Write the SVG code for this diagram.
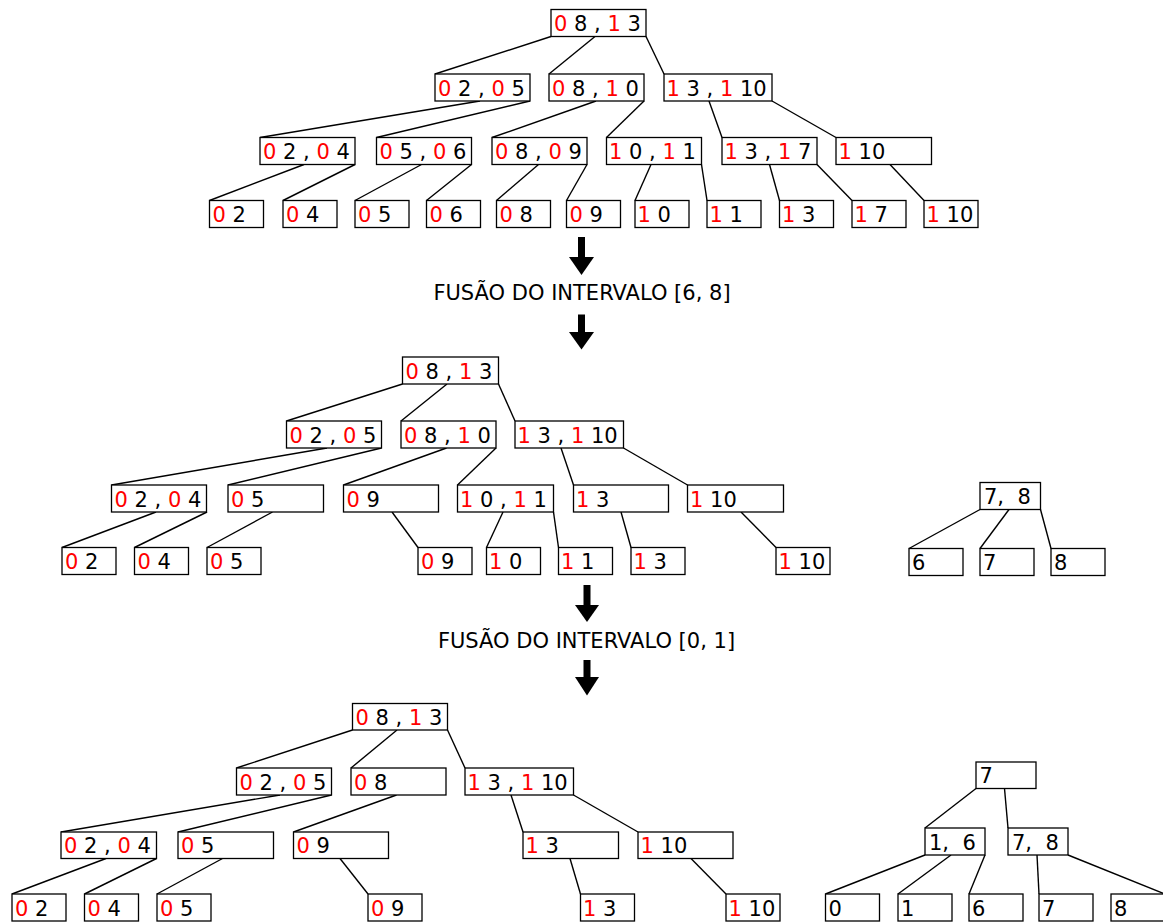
<svg xmlns="http://www.w3.org/2000/svg" width="1163" height="922" viewBox="0 0 1163 922">
<style>
rect.b{fill:#fff;stroke:#000;stroke-width:1.3}
text{font-family:"DejaVu Sans","Liberation Sans",sans-serif;font-size:21px;fill:#000;white-space:pre}
tspan.r{fill:#ff0000}
#connectors line{stroke:#000;stroke-width:1.4}
.ar{fill:#000}
</style>
<rect width="1163" height="922" fill="#fff"/>
<g id="connectors">
<!-- top tree -->
<line x1="551" y1="36.5" x2="435" y2="74"/>
<line x1="595" y1="36.5" x2="549" y2="74"/>
<line x1="646" y1="36.5" x2="664" y2="74"/>
<line x1="480" y1="101" x2="260" y2="137.5"/>
<line x1="530" y1="101" x2="376.5" y2="137.5"/>
<line x1="596" y1="101" x2="492" y2="137.5"/>
<line x1="644" y1="101" x2="606.5" y2="137.5"/>
<line x1="709" y1="101" x2="722" y2="137.5"/>
<line x1="772" y1="101" x2="836" y2="137.5"/>
<line x1="304" y1="164.5" x2="209.5" y2="200.5"/>
<line x1="355" y1="164.5" x2="283" y2="200.5"/>
<line x1="421.5" y1="164.5" x2="355" y2="200.5"/>
<line x1="471.5" y1="164.5" x2="426.5" y2="200.5"/>
<line x1="538.5" y1="164.5" x2="496.5" y2="200.5"/>
<line x1="587" y1="164.5" x2="566.5" y2="200.5"/>
<line x1="651" y1="164.5" x2="635" y2="200.5"/>
<line x1="701.5" y1="164.5" x2="707" y2="200.5"/>
<line x1="769.5" y1="164.5" x2="779.5" y2="200.5"/>
<line x1="817" y1="164.5" x2="852" y2="200.5"/>
<line x1="890" y1="164.5" x2="924" y2="200.5"/>
<!-- middle tree -->
<line x1="402.5" y1="384" x2="286.5" y2="421"/>
<line x1="447" y1="384" x2="401" y2="421"/>
<line x1="498.5" y1="384" x2="515" y2="421"/>
<line x1="327" y1="448" x2="111.5" y2="485"/>
<line x1="381.5" y1="448" x2="228" y2="485"/>
<line x1="446.5" y1="448" x2="343.5" y2="485"/>
<line x1="496" y1="448" x2="457.5" y2="485"/>
<line x1="561" y1="448" x2="573.5" y2="485"/>
<line x1="623.5" y1="448" x2="687.5" y2="485"/>
<line x1="156" y1="512" x2="62" y2="547.5"/>
<line x1="207" y1="512" x2="134.5" y2="547.5"/>
<line x1="272.5" y1="512" x2="207" y2="547.5"/>
<line x1="392" y1="512" x2="418" y2="547.5"/>
<line x1="503" y1="512" x2="486.5" y2="547.5"/>
<line x1="553.5" y1="512" x2="558.5" y2="547.5"/>
<line x1="621" y1="512" x2="631" y2="547.5"/>
<line x1="741" y1="512" x2="776" y2="547.5"/>
<line x1="980" y1="509.5" x2="909" y2="548.5"/>
<line x1="1009" y1="509.5" x2="980" y2="548.5"/>
<line x1="1040.5" y1="509.5" x2="1051" y2="548.5"/>
<!-- bottom tree -->
<line x1="352.5" y1="730" x2="236.5" y2="768"/>
<line x1="397" y1="730" x2="351" y2="768"/>
<line x1="447.5" y1="730" x2="465" y2="768"/>
<line x1="280" y1="795" x2="61" y2="832"/>
<line x1="331.5" y1="795" x2="178" y2="832"/>
<line x1="396.5" y1="795" x2="293.5" y2="832"/>
<line x1="511" y1="795" x2="523" y2="832"/>
<line x1="573.5" y1="795" x2="638" y2="832"/>
<line x1="106" y1="858.5" x2="12" y2="894"/>
<line x1="156.5" y1="858.5" x2="84.5" y2="894"/>
<line x1="222.5" y1="858.5" x2="157" y2="894"/>
<line x1="340" y1="858.5" x2="368" y2="894"/>
<line x1="570" y1="858.5" x2="580.5" y2="894"/>
<line x1="691" y1="858.5" x2="726" y2="894"/>
<line x1="976" y1="788.5" x2="925" y2="828"/>
<line x1="1004.5" y1="788.5" x2="1008" y2="828"/>
<line x1="925" y1="855" x2="825.5" y2="894"/>
<line x1="951" y1="855" x2="898" y2="894"/>
<line x1="985" y1="855" x2="969" y2="894"/>
<line x1="1037" y1="855" x2="1039" y2="894"/>
<line x1="1068" y1="855" x2="1165" y2="894"/>
</g>

<!-- TOP TREE -->
<g id="t-root"><rect class="b" x="551" y="9.5" width="95" height="27"/><text x="554" y="31"><tspan class="r">0</tspan> 8 , <tspan class="r">1</tspan> 3</text></g>
<g id="t-02-05"><rect class="b" x="435" y="74" width="95" height="27"/><text x="438" y="95.5"><tspan class="r">0</tspan> 2 , <tspan class="r">0</tspan> 5</text></g>
<g id="t-08-10"><rect class="b" x="549" y="74" width="95" height="27"/><text x="552" y="95.5"><tspan class="r">0</tspan> 8 , <tspan class="r">1</tspan> 0</text></g>
<g id="t-13-110"><rect class="b" x="664" y="74" width="108" height="27"/><text x="666.5" y="95.5"><tspan class="r">1</tspan> 3 , <tspan class="r">1</tspan> 10</text></g>
<g id="t-02-04"><rect class="b" x="260" y="137.5" width="95" height="27"/><text x="263" y="159"><tspan class="r">0</tspan> 2 , <tspan class="r">0</tspan> 4</text></g>
<g id="t-05-06"><rect class="b" x="376.5" y="137.5" width="95" height="27"/><text x="379.5" y="159"><tspan class="r">0</tspan> 5 , <tspan class="r">0</tspan> 6</text></g>
<g id="t-08-09"><rect class="b" x="492" y="137.5" width="95" height="27"/><text x="495" y="159"><tspan class="r">0</tspan> 8 , <tspan class="r">0</tspan> 9</text></g>
<g id="t-10-11"><rect class="b" x="606.5" y="137.5" width="95" height="27"/><text x="609" y="159"><tspan class="r">1</tspan> 0 , <tspan class="r">1</tspan> 1</text></g>
<g id="t-13-17"><rect class="b" x="722" y="137.5" width="95" height="27"/><text x="724.5" y="159"><tspan class="r">1</tspan> 3 , <tspan class="r">1</tspan> 7</text></g>
<g id="t-110"><rect class="b" x="836" y="137.5" width="95.5" height="27"/><text x="838.5" y="159"><tspan class="r">1</tspan> 10</text></g>
<g id="t-l02"><rect class="b" x="209.5" y="200.5" width="54" height="27"/><text x="212.5" y="222"><tspan class="r">0</tspan> 2</text></g>
<g id="t-l04"><rect class="b" x="283" y="200.5" width="54" height="27"/><text x="286" y="222"><tspan class="r">0</tspan> 4</text></g>
<g id="t-l05"><rect class="b" x="355" y="200.5" width="54" height="27"/><text x="358" y="222"><tspan class="r">0</tspan> 5</text></g>
<g id="t-l06"><rect class="b" x="426.5" y="200.5" width="54" height="27"/><text x="429.5" y="222"><tspan class="r">0</tspan> 6</text></g>
<g id="t-l08"><rect class="b" x="496.5" y="200.5" width="54" height="27"/><text x="499.5" y="222"><tspan class="r">0</tspan> 8</text></g>
<g id="t-l09"><rect class="b" x="566.5" y="200.5" width="54" height="27"/><text x="569.5" y="222"><tspan class="r">0</tspan> 9</text></g>
<g id="t-l10"><rect class="b" x="635" y="200.5" width="54" height="27"/><text x="637.5" y="222"><tspan class="r">1</tspan> 0</text></g>
<g id="t-l11"><rect class="b" x="707" y="200.5" width="54" height="27"/><text x="709.5" y="222"><tspan class="r">1</tspan> 1</text></g>
<g id="t-l13"><rect class="b" x="779.5" y="200.5" width="54" height="27"/><text x="782" y="222"><tspan class="r">1</tspan> 3</text></g>
<g id="t-l17"><rect class="b" x="852" y="200.5" width="54" height="27"/><text x="854.5" y="222"><tspan class="r">1</tspan> 7</text></g>
<g id="t-l110"><rect class="b" x="924" y="200.5" width="54" height="27"/><text x="926.5" y="222"><tspan class="r">1</tspan> 10</text></g>

<!-- ARROWS AND LABELS -->
<g id="step1">
<rect class="ar" x="578" y="237" width="7" height="21"/><polygon class="ar" points="569,257 594,257 581.5,275"/>
<text x="582" y="300" text-anchor="middle">FUSÃO DO INTERVALO [6, 8]</text>
<rect class="ar" x="578" y="314.5" width="7" height="18"/><polygon class="ar" points="569,332 594,332 581.5,349.5"/>
</g>

<!-- MIDDLE TREE -->
<g id="m-root"><rect class="b" x="402.5" y="357" width="96" height="27"/><text x="405.5" y="378.5"><tspan class="r">0</tspan> 8 , <tspan class="r">1</tspan> 3</text></g>
<g id="m-02-05"><rect class="b" x="286.5" y="421" width="95" height="27"/><text x="289.5" y="442.5"><tspan class="r">0</tspan> 2 , <tspan class="r">0</tspan> 5</text></g>
<g id="m-08-10"><rect class="b" x="401" y="421" width="95" height="27"/><text x="404" y="442.5"><tspan class="r">0</tspan> 8 , <tspan class="r">1</tspan> 0</text></g>
<g id="m-13-110"><rect class="b" x="515" y="421" width="108.5" height="27"/><text x="517.5" y="442.5"><tspan class="r">1</tspan> 3 , <tspan class="r">1</tspan> 10</text></g>
<g id="m-02-04"><rect class="b" x="111.5" y="485" width="95" height="27"/><text x="114.5" y="506.5"><tspan class="r">0</tspan> 2 , <tspan class="r">0</tspan> 4</text></g>
<g id="m-05"><rect class="b" x="228" y="485" width="95.5" height="27"/><text x="231" y="506.5"><tspan class="r">0</tspan> 5</text></g>
<g id="m-09"><rect class="b" x="343.5" y="485" width="95" height="27"/><text x="346.5" y="506.5"><tspan class="r">0</tspan> 9</text></g>
<g id="m-10-11"><rect class="b" x="457.5" y="485" width="96" height="27"/><text x="460" y="506.5"><tspan class="r">1</tspan> 0 , <tspan class="r">1</tspan> 1</text></g>
<g id="m-13"><rect class="b" x="573.5" y="485" width="95" height="27"/><text x="576" y="506.5"><tspan class="r">1</tspan> 3</text></g>
<g id="m-110"><rect class="b" x="687.5" y="485" width="96" height="27"/><text x="690" y="506.5"><tspan class="r">1</tspan> 10</text></g>
<g id="m-l02"><rect class="b" x="62" y="547.5" width="54" height="27"/><text x="65" y="569"><tspan class="r">0</tspan> 2</text></g>
<g id="m-l04"><rect class="b" x="134.5" y="547.5" width="54" height="27"/><text x="137.5" y="569"><tspan class="r">0</tspan> 4</text></g>
<g id="m-l05"><rect class="b" x="207" y="547.5" width="54" height="27"/><text x="210" y="569"><tspan class="r">0</tspan> 5</text></g>
<g id="m-l09"><rect class="b" x="418" y="547.5" width="54" height="27"/><text x="421" y="569"><tspan class="r">0</tspan> 9</text></g>
<g id="m-l10"><rect class="b" x="486.5" y="547.5" width="54" height="27"/><text x="489" y="569"><tspan class="r">1</tspan> 0</text></g>
<g id="m-l11"><rect class="b" x="558.5" y="547.5" width="54" height="27"/><text x="561" y="569"><tspan class="r">1</tspan> 1</text></g>
<g id="m-l13"><rect class="b" x="631" y="547.5" width="54" height="27"/><text x="633.5" y="569"><tspan class="r">1</tspan> 3</text></g>
<g id="m-l110"><rect class="b" x="776" y="547.5" width="54" height="27"/><text x="778.5" y="569"><tspan class="r">1</tspan> 10</text></g>

<!-- MIDDLE RIGHT TREE -->
<g id="mr-78"><rect class="b" x="980" y="482.5" width="60.5" height="27"/><text x="984" y="504">7,  8</text></g>
<g id="mr-6"><rect class="b" x="909" y="548.5" width="54" height="27"/><text x="912" y="570">6</text></g>
<g id="mr-7"><rect class="b" x="980" y="548.5" width="54" height="27"/><text x="983" y="570">7</text></g>
<g id="mr-8"><rect class="b" x="1051" y="548.5" width="54" height="27"/><text x="1054" y="570">8</text></g>

<g id="step2">
<rect class="ar" x="583.5" y="585" width="7" height="21"/><polygon class="ar" points="575,605 599,605 587,622"/>
<text x="586.5" y="648" text-anchor="middle">FUSÃO DO INTERVALO [0, 1]</text>
<rect class="ar" x="583.5" y="660" width="7" height="18"/><polygon class="ar" points="575,677 599,677 587,695.5"/>
</g>

<!-- BOTTOM TREE -->
<g id="b-root"><rect class="b" x="352.5" y="703.5" width="95" height="26.5"/><text x="355.5" y="724.5"><tspan class="r">0</tspan> 8 , <tspan class="r">1</tspan> 3</text></g>
<g id="b-02-05"><rect class="b" x="236.5" y="768" width="95" height="27"/><text x="239.5" y="789.5"><tspan class="r">0</tspan> 2 , <tspan class="r">0</tspan> 5</text></g>
<g id="b-08"><rect class="b" x="351" y="768" width="95" height="27"/><text x="354" y="789.5"><tspan class="r">0</tspan> 8</text></g>
<g id="b-13-110"><rect class="b" x="465" y="768" width="108.5" height="27"/><text x="467.5" y="789.5"><tspan class="r">1</tspan> 3 , <tspan class="r">1</tspan> 10</text></g>
<g id="b-02-04"><rect class="b" x="61" y="832" width="95.5" height="26.5"/><text x="64" y="853"><tspan class="r">0</tspan> 2 , <tspan class="r">0</tspan> 4</text></g>
<g id="b-05"><rect class="b" x="178" y="832" width="95.5" height="26.5"/><text x="181" y="853"><tspan class="r">0</tspan> 5</text></g>
<g id="b-09"><rect class="b" x="293.5" y="832" width="95" height="26.5"/><text x="296.5" y="853"><tspan class="r">0</tspan> 9</text></g>
<g id="b-13"><rect class="b" x="523" y="832" width="95.5" height="26.5"/><text x="525.5" y="853"><tspan class="r">1</tspan> 3</text></g>
<g id="b-110"><rect class="b" x="638" y="832" width="95" height="26.5"/><text x="640.5" y="853"><tspan class="r">1</tspan> 10</text></g>
<g id="b-l02"><rect class="b" x="12" y="894" width="54" height="27"/><text x="15" y="915.5"><tspan class="r">0</tspan> 2</text></g>
<g id="b-l04"><rect class="b" x="84.5" y="894" width="54" height="27"/><text x="87.5" y="915.5"><tspan class="r">0</tspan> 4</text></g>
<g id="b-l05"><rect class="b" x="157" y="894" width="54" height="27"/><text x="160" y="915.5"><tspan class="r">0</tspan> 5</text></g>
<g id="b-l09"><rect class="b" x="368" y="894" width="54" height="27"/><text x="371" y="915.5"><tspan class="r">0</tspan> 9</text></g>
<g id="b-l13"><rect class="b" x="580.5" y="894" width="54" height="27"/><text x="583" y="915.5"><tspan class="r">1</tspan> 3</text></g>
<g id="b-l110"><rect class="b" x="726" y="894" width="54" height="27"/><text x="728.5" y="915.5"><tspan class="r">1</tspan> 10</text></g>

<!-- BOTTOM RIGHT TREE -->
<g id="br-7"><rect class="b" x="976" y="762" width="60" height="26.5"/><text x="979.5" y="783">7</text></g>
<g id="br-16"><rect class="b" x="925" y="828" width="60" height="27"/><text x="929" y="849.5">1,  6</text></g>
<g id="br-78"><rect class="b" x="1008" y="828" width="60" height="27"/><text x="1012" y="849.5">7,  8</text></g>
<g id="br-0"><rect class="b" x="825.5" y="894" width="54" height="27"/><text x="828.5" y="915.5">0</text></g>
<g id="br-1"><rect class="b" x="898" y="894" width="54" height="27"/><text x="901" y="915.5">1</text></g>
<g id="br-6"><rect class="b" x="969" y="894" width="54" height="27"/><text x="972" y="915.5">6</text></g>
<g id="br-l7"><rect class="b" x="1039" y="894" width="54" height="27"/><text x="1042" y="915.5">7</text></g>
<g id="br-8"><rect class="b" x="1111" y="894" width="54" height="27"/><text x="1114" y="915.5">8</text></g>
</svg>
